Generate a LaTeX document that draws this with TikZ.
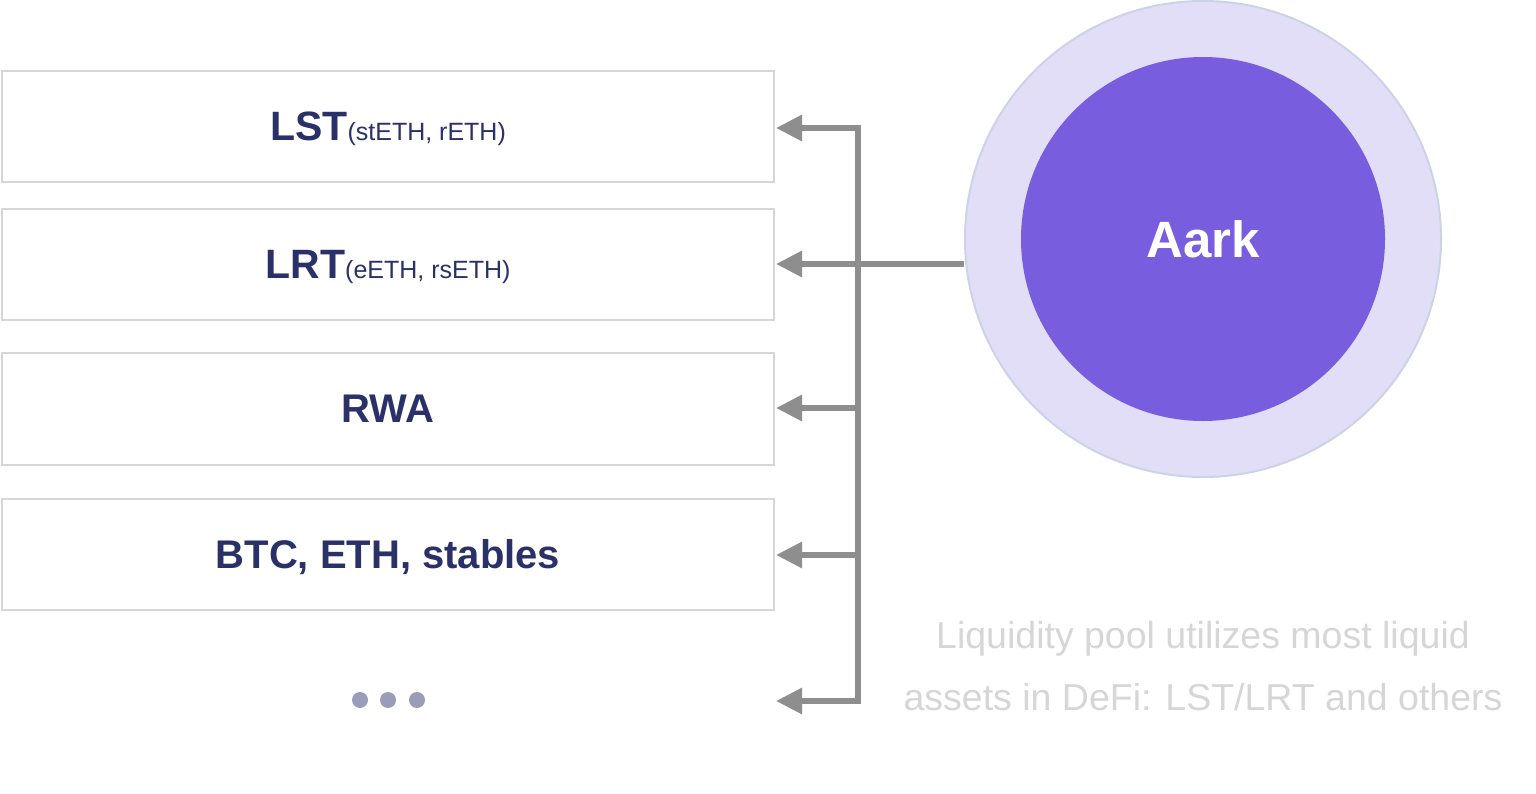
\documentclass[tikz,border=0pt]{standalone}
\usepackage{fontspec}
\setmainfont{Liberation Sans}
\usetikzlibrary{arrows.meta}
\definecolor{navy}{HTML}{2A3168}
\definecolor{boxgray}{HTML}{D6D6D6}
\definecolor{linegray}{HTML}{8E8E8E}
\definecolor{ringfill}{HTML}{E2DEF7}
\definecolor{ringdraw}{HTML}{CDD3E6}
\definecolor{corefill}{HTML}{785DDF}
\definecolor{dotcol}{HTML}{9A9CBA}
\definecolor{capgray}{HTML}{D6D6D6}
\begin{document}
\begin{tikzpicture}[x=1bp,y=-1bp]
\useasboundingbox (0,0) rectangle (1536,793);
\tikzset{
  asset/.style={draw=boxgray, line width=2.5bp, minimum width=772bp, minimum height=111bp,
    inner sep=0pt, text depth=0pt, text=navy, font=\fontsize{40bp}{48bp}\selectfont\bfseries},
  link/.style={draw=linegray, line width=6bp, line join=miter},
  arr/.style={link, -{Triangle[length=26bp,width=25bp]}},
  dotnode/.style={circle, fill=dotcol, minimum size=16bp, inner sep=0pt},
  captxt/.style={text=capgray, font=\fontsize{37.5bp}{45bp}\selectfont, anchor=base}
}
\newcommand{\smalltxt}[1]{{\fontsize{25bp}{30bp}\selectfont\mdseries #1}}
\node[asset] (lst) at (388,126.5) {\fontsize{41bp}{48bp}\selectfont LST\smalltxt{(stETH, rETH)}};
\node[asset] (lrt) at (388,264.5) {\fontsize{41bp}{48bp}\selectfont LRT\smalltxt{(eETH, rsETH)}};
\node[asset, minimum height=112bp] (rwa) at (388,409) {RWA};
\node[asset] (btc) at (388,554.5) {BTC, ETH, stables};
\node[dotnode] (d1) at (360,700) {};
\node[dotnode] (d2) at (388,700) {};
\node[dotnode] (d3) at (417,700) {};
\node[circle, fill=ringfill, draw=ringdraw, line width=2bp, minimum size=476bp, inner sep=0pt] (outer) at (1203,239) {};
\node[circle, fill=corefill, minimum size=364bp, inner sep=0pt, text=white, text depth=0pt,
  font=\fontsize{51bp}{60bp}\selectfont\bfseries] (aark) at (1203,239) {Aark};
\coordinate (top) at (858,128);
\coordinate (mid) at (858,264);
\coordinate (bot) at (858,701);
\coordinate (b3) at (858,408);
\coordinate (b4) at (858,555);
\coordinate (e1) at (776,128);
\coordinate (e2) at (776,264);
\coordinate (e3) at (776,408);
\coordinate (e4) at (776,555);
\coordinate (e5) at (776,701);
\draw[link] (outer.west |- mid) -- (mid);
\draw[arr] (mid) -- (top) -- (e1);
\draw[arr] (mid) -- (bot) -- (e5);
\draw[arr] (mid) -- (e2);
\draw[arr] (b3) -- (e3);
\draw[arr] (b4) -- (e4);
\node[captxt] (c1) at (1203,648) {Liquidity pool utilizes most liquid};
\node[captxt] (c2) at (1203,710) {assets in DeFi: LST/LRT and others};
\end{tikzpicture}
\end{document}
